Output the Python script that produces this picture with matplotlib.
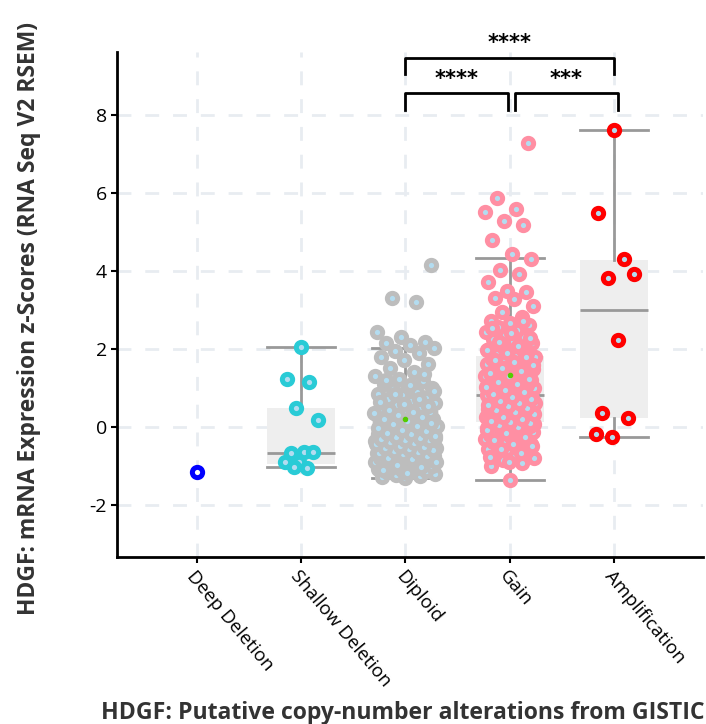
import matplotlib.pyplot as plt
import numpy as np

plt.rcParams['axes.unicode_minus'] = False

categories = ["Deep Deletion", "Shallow Deletion", "Diploid", "Gain", "Amplification"]
colors = ["#0000ff", "#29cbd6", "#bdbdbd", "#ff8fa3", "#ff0000"]

deep = [-1.15]
shallow = [2.05, 1.23, 1.15, 0.49, 0.17, -0.65, -0.68, -0.65, -0.9, -0.9, -1.05, -1.02]
diploid = [-1.3, -1.28, -1.25, -1.23, -1.2, -1.17, -1.15, -1.13, -1.1, -1.07, -1.05, -1.02,
           -1.0, -0.98, -0.95, -0.94, -0.92, -0.9, -0.87, -0.86, -0.84, -0.81, -0.8, -0.78,
           -0.76, -0.75, -0.73, -0.72, -0.71, -0.7,
           -0.68, -0.66, -0.65, -0.63, -0.61, -0.6, -0.58, -0.57, -0.55, -0.53, -0.52, -0.5,
           -0.49, -0.47, -0.46, -0.44, -0.43, -0.41, -0.4, -0.39, -0.38, -0.37, -0.36, -0.35,
           -0.34, -0.33, -0.32, -0.31, -0.3, -0.29,
           -0.27, -0.25, -0.22, -0.2, -0.18, -0.15, -0.13, -0.1, -0.08, -0.05, -0.02, 0.0,
           0.02, 0.05, 0.07, 0.1, 0.12, 0.14, 0.17, 0.18, 0.2, 0.23, 0.25, 0.27, 0.3, 0.32,
           0.34, 0.36, 0.38, 0.41,
           0.45, 0.5, 0.56, 0.6, 0.66, 0.7, 0.75, 0.81, 0.85, 0.9, 0.96, 1.0, 1.05, 1.1,
           1.17, 1.23, 1.3, 1.4, 1.5, 1.6, 1.72, 1.8, 1.9, 1.95, 2.02, 2.1, 2.15, 2.17,
           2.3, 2.43, 3.2, 3.3, 4.15,
           -1.19, -1.11, -1.04, -0.97, -0.91, -0.83, -0.79, -0.74, -0.69, -0.67, -0.64,
           -0.62, -0.59, -0.56, -0.54, -0.51, -0.48, -0.45, -0.42, -0.38, -0.35, -0.33,
           -0.31, -0.28, -0.26, -0.23, -0.19, -0.16, -0.11, -0.07, -0.03, 0.03, 0.08, 0.11,
           0.15, 0.21, 0.26, 0.31, 0.35, 0.39, 0.44, 0.52, 0.58, 0.63, 0.72, 0.83, 0.92,
           1.08, 1.2, 1.35]
gain = [-1.36, -1.0, -0.93, -0.85, -0.8, -0.74, -0.7, -0.64, -0.6, -0.56, -0.52, -0.48,
        -0.45, -0.42, -0.4, -0.37, -0.35, -0.32, -0.3, -0.27, -0.25, -0.22, -0.2, -0.18,
        -0.15, -0.13, -0.1, -0.08, -0.06, -0.04, -0.02, 0.0, 0.01, 0.02, 0.03, 0.05,
        0.06, 0.07, 0.08, 0.09, 0.1, 0.11, 0.12, 0.13, 0.13,
        0.15, 0.17, 0.18, 0.2, 0.22, 0.23, 0.25, 0.27, 0.28, 0.3, 0.31, 0.33, 0.35, 0.36,
        0.38, 0.4, 0.41, 0.43, 0.45, 0.46, 0.48, 0.5, 0.51, 0.53, 0.55, 0.56, 0.58, 0.6,
        0.61, 0.63, 0.65, 0.66, 0.68, 0.7, 0.71, 0.73, 0.75, 0.76, 0.78, 0.8, 0.81,
        0.84, 0.86, 0.89, 0.91, 0.93, 0.96, 0.98, 1.0, 1.03, 1.05, 1.07, 1.1, 1.12, 1.14,
        1.17, 1.19, 1.21, 1.24, 1.26, 1.28, 1.31, 1.33, 1.35, 1.38, 1.4, 1.42, 1.45, 1.47,
        1.49, 1.52, 1.54, 1.56, 1.59, 1.61, 1.63, 1.66, 1.68, 1.7, 1.73, 1.75, 1.77, 1.8, 1.82,
        1.86, 1.9, 1.95, 2.0, 2.05, 2.1, 2.15, 2.2, 2.25, 2.3, 2.36, 2.42, 2.48, 2.55, 2.6,
        2.66, 2.72, 2.82, 2.95, 3.1, 3.28, 3.31, 3.46, 3.49, 3.72, 3.91, 4.02, 4.3,
        4.42, 4.78, 5.17, 5.27, 5.5, 5.57, 5.85, 7.28,
        -0.9, -0.78, -0.66, -0.58, -0.5, -0.43, -0.34, -0.26, -0.16, -0.09, -0.01, 0.04,
        0.09, 0.12, 0.16, 0.21, 0.26, 0.32, 0.37, 0.42, 0.47, 0.52, 0.57, 0.62, 0.67,
        0.72, 0.77, 0.83, 0.88, 0.95, 1.02, 1.09, 1.16, 1.23, 1.3, 1.37, 1.44, 1.51,
        1.58, 1.65, 1.72, 1.79, 1.88, 1.98, 2.08, 2.18, 2.28, 2.4, 2.52, 2.7]
amplification = [7.6, 5.48, 4.3, 3.8, 3.92, 2.23, 0.36, 0.23, -0.26, -0.19]
groups = [deep, shallow, diploid, gain, amplification]

# box stats (Deep Deletion has no box)
box_q1 = [None, -0.95, -0.69, 0.13, 0.23]
box_med = [None, -0.66, -0.29, 0.82, 3.0]
box_q3 = [None, 0.49, 0.41, 1.82, 4.28]
whis_lo = [None, -1.03, -1.3, -1.36, -0.26]
whis_hi = [None, 2.05, 2.02, 4.33, 7.6]
means = {2: 0.2, 3: 1.33}
jitter_width = [0.0, 0.17, 0.3, 0.24, 0.2]

# significance brackets: (left, right, height, label)
brackets = [(2.0, 4.0, 9.46, "****"), (2.0, 2.98, 8.54, "****"), (3.05, 4.03, 8.54, "***")]

fig = plt.figure(figsize=(7.06, 7.24), dpi=100)
ax = fig.add_axes([0.166, 0.231, 0.83, 0.697])

ax.set_axisbelow(True)
ax.grid(True, color="#e8ecf1", linestyle=(0, (5, 5)), linewidth=2)

stats = []
positions = []
for i in range(len(categories)):
    if box_q1[i] is None:
        continue
    stats.append({"q1": box_q1[i], "med": box_med[i], "q3": box_q3[i],
                  "whislo": whis_lo[i], "whishi": whis_hi[i], "fliers": []})
    positions.append(i)

ax.bxp(stats, positions=positions, widths=0.65, patch_artist=True, showfliers=False,
       boxprops=dict(facecolor="#eeeeee", edgecolor="none"),
       medianprops=dict(color="#999999", linewidth=2),
       whiskerprops=dict(color="#999999", linewidth=2),
       capprops=dict(color="#999999", linewidth=2), capwidths=0.65)

phi = 0.6180339887
for i, vals in enumerate(groups):
    vals = np.array(vals)
    k = np.arange(len(vals))
    offs = ((k * phi + 0.5) % 1.0 - 0.5) * 2 * jitter_width[i]
    face = "white" if i == 0 else "#b3dcf0"
    ax.plot(i + offs, vals, "o", ms=7.4, mew=3.6, mec=colors[i], mfc=face, zorder=3)

for i, m in means.items():
    ax.plot(i, m, "o", ms=3, color="#55cc00", zorder=4)

for x0, x1, h, label in brackets:
    ax.plot([x0, x0, x1, x1], [h - 0.42, h, h, h - 0.42], color="black", lw=2,
            clip_on=False, zorder=5)
    ax.text((x0 + x1) / 2, h + 0.12, label, ha="center", va="bottom", fontsize=15,
            fontweight="bold", clip_on=False)

ax.set_xlim(-0.76, 4.85)
ax.set_ylim(-3.33, 9.6)
ax.set_yticks([-2, 0, 2, 4, 6, 8])
ax.set_xticks(range(len(categories)))
ax.set_xticklabels(categories, rotation=-50, ha="left", va="top", rotation_mode="anchor",
                   fontsize=13.5, family=["Open Sans", "DejaVu Sans"])
ax.tick_params(axis="y", labelsize=14, length=4, width=1.5)
ax.tick_params(axis="x", length=4, width=1.5)
for lab in ax.get_yticklabels():
    lab.set_family(["Open Sans", "DejaVu Sans"])

for s in ["top", "right"]:
    ax.spines[s].set_visible(False)
ax.spines["left"].set_linewidth(2)
ax.spines["bottom"].set_linewidth(2)

ax.set_ylabel("HDGF: mRNA Expression z-Scores (RNA Seq V2 RSEM)", fontsize=16.5,
              fontweight="bold", color="#333333", family=["Open Sans", "DejaVu Sans"])
ax.yaxis.set_label_coords(-0.13, 0.472)
ax.set_xlabel("HDGF: Putative copy-number alterations from GISTIC", fontsize=16.6,
              fontweight="bold", color="#333333", family=["Open Sans", "DejaVu Sans"])
ax.xaxis.set_label_coords(0.488, -0.285)

fig.savefig("out.png", dpi=100)
